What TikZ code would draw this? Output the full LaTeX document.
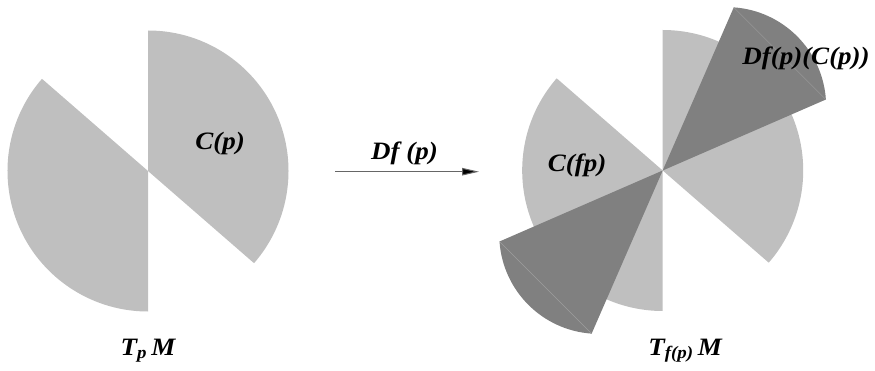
\documentclass[tikz,border=0pt]{standalone}
\usepackage{fontspec}
\setmainfont{Liberation Serif}[FakeStretch=1.08]
\usetikzlibrary{arrows.meta,calc}
\definecolor{lightg}{gray}{0.75}
\definecolor{darkg}{gray}{0.5}
\definecolor{seamg}{gray}{0.62}
\definecolor{arrowg}{gray}{0.4}
\tikzset{
  lbl/.style={inner sep=0pt, anchor=base, font=\fontsize{25}{28}\selectfont\bfseries\itshape},
  lightsector/.style={fill=lightg},
  darksector/.style={fill=darkg},
  seam/.style={draw=seamg, line width=0.4pt},
  maparrow/.style={draw=arrowg, line width=1pt, -{Triangle[length=17pt,width=7.5pt,fill=black]}}
}
\begin{document}
\begin{tikzpicture}[x=1pt,y=1pt]
\useasboundingbox (0,0) rectangle (875,370);
% left figure
\coordinate (L) at (148,199);
\fill[lightsector] (L) -- ++(90:140.5) arc[start angle=90, end angle=-41, radius=140.5] -- cycle;
\fill[lightsector] (L) -- ++(139:140.5) arc[start angle=139, end angle=270, radius=140.5] -- cycle;
% right figure
\coordinate (R) at (662.7,199.5);
\fill[lightsector] (R) -- ++(90:140.5) arc[start angle=90, end angle=-41, radius=140.5] -- cycle;
\fill[lightsector] (R) -- ++(139:140.5) arc[start angle=139, end angle=270, radius=140.5] -- cycle;
% dark image cone
\coordinate (d1) at ($(R)+(163.2,71.0)$);
\coordinate (d2) at ($(R)+(71.0,163.2)$);
\coordinate (d3) at ($(R)+(-163.2,-71.0)$);
\coordinate (d4) at ($(R)+(-71.0,-163.2)$);
\fill[darksector] (R) -- (d1) arc[start angle=4, end angle=86, radius=99.3] -- cycle;
\fill[darksector] (R) -- (d3) arc[start angle=184, end angle=266, radius=99.3] -- cycle;
\draw[seam] (d1) -- (d2);
\draw[seam] (d3) -- (d4);
% labels
\node[lbl] (cp) at (220,220) {C(p)};
\node[lbl] (cfp) at (577,198.5) {C(fp)};
\node[lbl] (dfc) at (806,305) {Df(p)(C(p))};
\node[lbl] (tpm) at (148,15) {T\textsubscript{p}\,M};
\node[lbl] (tfm) at (685,15) {T\textsubscript{f(p)}\,M};
% arrow
\coordinate (a1) at (335,198.3);
\coordinate (a2) at (479,198.3);
\draw[maparrow] (a1) -- (a2);
\node[lbl] (df) at (404.5,211) {Df (p)};
\end{tikzpicture}
\end{document}
